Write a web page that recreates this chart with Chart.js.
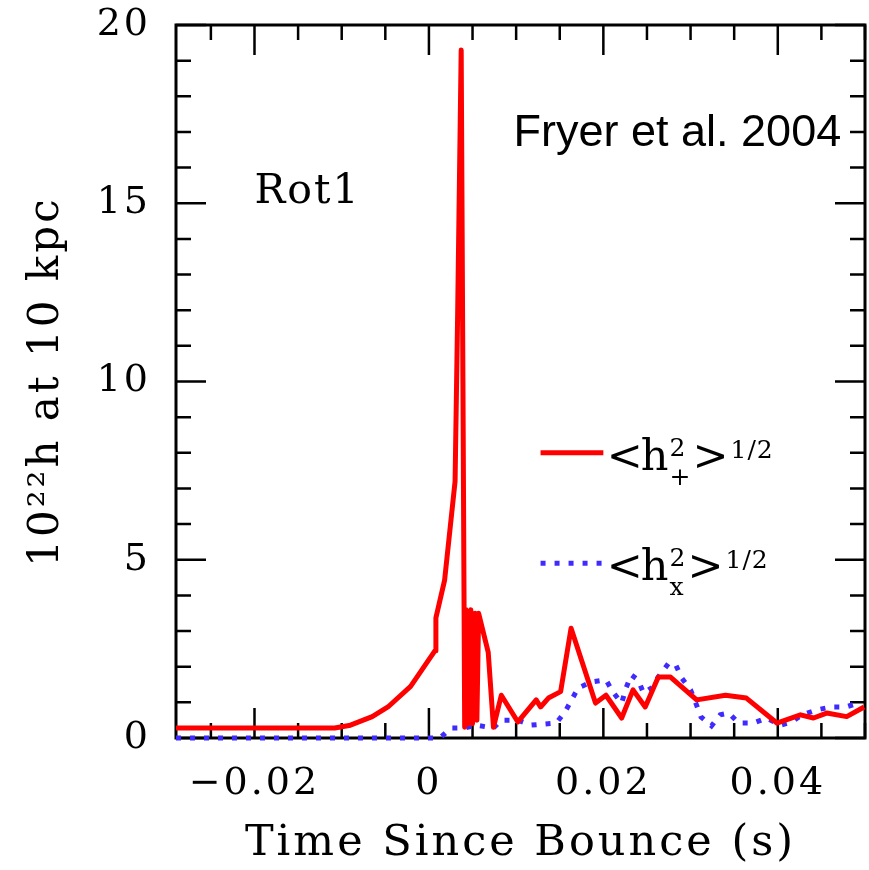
<!DOCTYPE html>
<html>
<head>
<meta charset="utf-8">
<script src="https://cdn.jsdelivr.net/npm/chart.js@4.4.1/dist/chart.umd.min.js"></script>
<style>
  html, body { margin: 0; padding: 0; background: #fff; }
  canvas { display: block; }
</style>
</head>
<body>
<canvas id="grafica" width="869" height="870"></canvas>
<script>
// <h+^2>^1/2 (rojo, continua)
const tiempoMas = [-0.029, -0.0108, -0.009, -0.0065, -0.0047, -0.0021, 0.0007, 0.0008, 0.0018, 0.0030,
  0.0033, 0.0037, 0.0039, 0.0041, 0.00425, 0.0045, 0.0048, 0.0050, 0.0053, 0.0055,
  0.0057, 0.0068, 0.0074, 0.0083, 0.0102, 0.0123, 0.0128, 0.0137, 0.0151, 0.0163,
  0.0191, 0.0203, 0.0221, 0.0234, 0.0248, 0.0263, 0.0277, 0.0307, 0.0340, 0.0364,
  0.0399, 0.0426, 0.0441, 0.0456, 0.0479, 0.0499];
const hMas = [0.28, 0.28, 0.36, 0.6, 0.87, 1.45, 2.45, 3.37, 4.43, 7.2,
  12.0, 19.3, 10.0, 0.3, 3.6, 0.4, 3.6, 0.4, 3.5, 0.5,
  3.5, 2.4, 0.3, 1.2, 0.45, 1.07, 0.87, 1.12, 1.3, 3.08,
  0.98, 1.2, 0.56, 1.35, 0.87, 1.71, 1.71, 1.07, 1.2, 1.12,
  0.42, 0.65, 0.56, 0.7, 0.6, 0.87];

// <hx^2>^1/2 (azul, punteada)
const tiempoCruz = [-0.029, 0.0010, 0.0014, 0.0025, 0.0041, 0.0054, 0.0074, 0.0083, 0.0102, 0.0117,
  0.0146, 0.0156, 0.0171, 0.0186, 0.0203, 0.0211, 0.0221, 0.0226, 0.0232, 0.0240,
  0.0246, 0.0255, 0.0263, 0.0275, 0.0283, 0.0290, 0.0300, 0.0306, 0.0312, 0.0324,
  0.0334, 0.0344, 0.0355, 0.0372, 0.0387, 0.0403, 0.0416, 0.0428, 0.0445, 0.0461,
  0.0478, 0.0495];
const hCruz = [0, 0, 0.03, 0.28, 0.28, 0.36, 0.28, 0.5, 0.5, 0.36,
  0.42, 0.73, 1.4, 1.57, 1.63, 1.29, 0.98, 1.4, 1.77, 1.63,
  1.26, 1.4, 1.71, 2.1, 2.05, 1.68, 1.35, 0.98, 0.59, 0.34,
  0.65, 0.7, 0.42, 0.42, 0.56, 0.36, 0.45, 0.65, 0.79, 0.87,
  0.87, 1.0];

const ticksX = [-0.02, 0, 0.02, 0.04];
const etiquetasX = ['\u22120.02', '0', '0.02', '0.04'];
const ticksY = [0, 5, 10, 15, 20];
const etiquetasY = ['0', '5', '10', '15', '20'];

const ROJO = '#ff0000';
const AZUL = '#3f2bff';
const PUNTOS = [5, 9];

function aPuntos(xs, ys) {
  return xs.map((x, i) => ({ x: x, y: ys[i] }));
}

// marco con marcas hacia dentro en los cuatro lados
function dibujarMarco(chart) {
  const ctx = chart.ctx;
  const a = chart.chartArea;
  const sx = chart.scales.x;
  const sy = chart.scales.y;
  ctx.save();
  ctx.strokeStyle = '#000';
  ctx.lineWidth = 2.5;
  ctx.beginPath();
  for (let i = -6; i <= 10; i++) {
    const v = i * 0.005;
    if (v < sx.min || v > sx.max) continue;
    const px = sx.getPixelForValue(v);
    const largo = i % 4 === 0 ? 30 : 15;
    ctx.moveTo(px, a.bottom); ctx.lineTo(px, a.bottom - largo);
    ctx.moveTo(px, a.top); ctx.lineTo(px, a.top + largo);
  }
  for (let v = 0; v <= 20; v++) {
    const py = sy.getPixelForValue(v);
    const largo = v % 5 === 0 ? 30 : 15;
    ctx.moveTo(a.left, py); ctx.lineTo(a.left + largo, py);
    ctx.moveTo(a.right, py); ctx.lineTo(a.right - largo, py);
  }
  ctx.stroke();
  ctx.lineWidth = 3;
  ctx.strokeRect(a.left, a.top, a.right - a.left, a.bottom - a.top);
  ctx.restore();
}

function dibujarEntrada(ctx, sx, sy, y, color, guiones, sub) {
  const x0 = sx.getPixelForValue(0.0128);
  const x1 = sx.getPixelForValue(0.0200);
  const py = sy.getPixelForValue(y);
  ctx.save();
  ctx.strokeStyle = color;
  ctx.lineWidth = 5;
  ctx.lineCap = 'butt';
  ctx.setLineDash(guiones);
  ctx.beginPath();
  ctx.moveTo(x0, py);
  ctx.lineTo(x1, py);
  ctx.stroke();
  ctx.setLineDash([]);

  const grande = '43px "DejaVu Serif"';
  const chica = '25px "DejaVu Serif"';
  const base = py + 17;
  ctx.fillStyle = '#000';
  ctx.textBaseline = 'alphabetic';
  ctx.textAlign = 'left';
  ctx.letterSpacing = '0px';
  let x = sx.getPixelForValue(0.0204);
  ctx.font = grande;
  ctx.fillText('<', x, base);
  x += ctx.measureText('<').width - 2;
  ctx.fillText('h', x, base);
  x += ctx.measureText('h').width + 1;
  ctx.font = chica;
  ctx.fillText('2', x, base - 14);
  ctx.fillText(sub, x, base + 15);
  x += Math.max(ctx.measureText('2').width, ctx.measureText(sub).width) + 2;
  ctx.font = grande;
  ctx.fillText('>', x, base);
  x += ctx.measureText('>').width + 2;
  ctx.font = chica;
  ctx.letterSpacing = '1px';
  ctx.fillText('1/2', x, base - 12);
  ctx.restore();
}

const extras = {
  id: 'extras',
  beforeDraw(chart) {
    const ctx = chart.ctx;
    ctx.save();
    ctx.fillStyle = '#fff';
    ctx.fillRect(0, 0, chart.width, chart.height);
    ctx.restore();
    ctx.letterSpacing = '3px';
  },
  beforeDatasetsDraw(chart) {
    dibujarMarco(chart);
  },
  afterDatasetsDraw(chart) {
    const ctx = chart.ctx;
    const sx = chart.scales.x;
    const sy = chart.scales.y;
    ctx.save();
    ctx.fillStyle = '#000';
    ctx.textAlign = 'left';
    ctx.textBaseline = 'alphabetic';
    ctx.letterSpacing = '2px';
    ctx.font = '41px "DejaVu Serif"';
    ctx.fillText('Rot1', sx.getPixelForValue(-0.02), sy.getPixelForValue(15));
    ctx.letterSpacing = '0px';
    ctx.font = '45px "Liberation Sans"';
    ctx.fillText('Fryer et al. 2004', sx.getPixelForValue(0.0097), sy.getPixelForValue(16.6));
    ctx.restore();

    dibujarEntrada(ctx, sx, sy, 8.0, ROJO, [], '+');
    dibujarEntrada(ctx, sx, sy, 4.9, AZUL, PUNTOS, 'x');
  }
};

document.addEventListener('DOMContentLoaded', () => {
  const lienzo = document.getElementById('grafica');
  new Chart(lienzo, {
    type: 'line',
    data: {
      datasets: [{
        label: '<h+^2>^1/2',
        data: aPuntos(tiempoMas, hMas),
        borderColor: ROJO,
        borderWidth: 5,
        borderJoinStyle: 'round',
        pointRadius: 0,
        tension: 0,
        clip: 5
      }, {
        label: '<hx^2>^1/2',
        data: aPuntos(tiempoCruz, hCruz),
        borderColor: AZUL,
        borderWidth: 5,
        borderDash: PUNTOS,
        borderCapStyle: 'butt',
        pointRadius: 0,
        tension: 0,
        clip: 5
      }]
    },
    options: {
      responsive: false,
      animation: false,
      devicePixelRatio: 1,
      layout: { padding: { top: 25, right: 4, left: 0, bottom: 0 } },
      plugins: {
        legend: { display: false },
        tooltip: { enabled: false }
      },
      scales: {
        x: {
          type: 'linear',
          min: -0.029,
          max: 0.05,
          grid: { display: false, drawTicks: false },
          border: { display: false },
          afterBuildTicks: s => { s.ticks = ticksX.map(v => ({ value: v })); },
          afterFit: s => { s.height = 132; s.paddingLeft = 0; s.paddingRight = 0; },
          ticks: {
            callback: (v, i) => etiquetasX[i],
            font: { family: 'DejaVu Serif', size: 38 },
            color: '#000',
            padding: 23,
            maxRotation: 0,
            autoSkip: false
          },
          title: {
            display: true,
            text: 'Time Since Bounce (s)',
            font: { family: 'DejaVu Serif', size: 43 },
            color: '#000',
            padding: { top: 0, bottom: 0 }
          }
        },
        y: {
          type: 'linear',
          min: 0,
          max: 20,
          grid: { display: false, drawTicks: false },
          border: { display: false },
          afterBuildTicks: s => { s.ticks = ticksY.map(v => ({ value: v })); },
          afterFit: s => { s.width = 176; s.paddingTop = 0; s.paddingBottom = 0; },
          ticks: {
            callback: (v, i) => etiquetasY[i],
            font: { family: 'DejaVu Serif', size: 38 },
            color: '#000',
            padding: 25,
            autoSkip: false
          },
          title: {
            display: true,
            text: '10\u00b2\u00b2h at 10 kpc',
            font: { family: 'DejaVu Serif', size: 42 },
            color: '#000',
            padding: { top: 22, bottom: 0 }
          }
        }
      }
    },
    plugins: [extras]
  });
});
</script>
</body>
</html>
